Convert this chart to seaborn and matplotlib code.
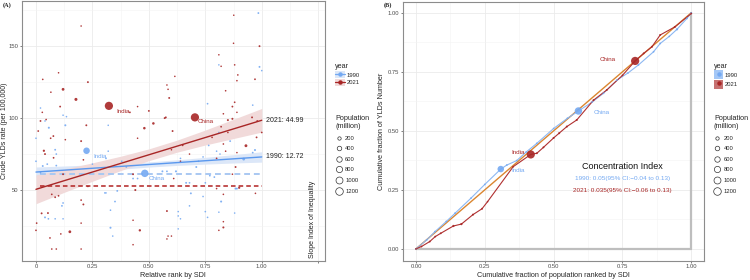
import matplotlib
matplotlib.use("Agg")
import numpy as np
import pandas as pd
import matplotlib.pyplot as plt
import seaborn as sns
from matplotlib.lines import Line2D
from matplotlib.patches import Patch

# ---- panel A: crude YLD rate vs relative SDI rank ----
rank_2021 = [0.323, 0.704, 0.03, 0.10, 0.12, 0.23, 0.177, 0.066, 0.107, 0.028, 0.02, 0.045,
             0.223, 0.20, 0.077, 0.065, 0.035, 0.04, 0.078, 0.21, 0.01, 0.13, 0.416, 0.45,
             0.50, 0.52, 0.48, 0.57, 0.58, 0.585, 0.45, 0.60, 0.615, 0.82, 0.81, 0.894,
             0.89, 0.97, 0.84, 0.88, 0.87, 0.89, 0.83, 0.59, 0.575, 0.605, 0.85, 0.87,
             0.957, 0.98, 0.82, 0.85, 0.78, 0.83, 0.84, 0.93, 0.977, 0.89, 1.0, 0.65,
             0.2, 0.876, 0.99, 0.875, 0.88, 0.12, 0.085, 0.07, 0.1, 0.025, 0.053, 0.003,
             0.0, 0.15, 0.11, 0.062, 0.07, 0.09, 0.2, 0.21, 0.2, 0.2, 0.23, 0.44,
             0.46, 0.43, 0.43, 0.58, 0.58, 0.8, 0.884, 0.87, 0.9, 0.80, 0.83, 0.972,
             0.83, 0.81, 0.83, 0.585, 0.60, 0.43, 0.61, 0.64, 0.68]
rate_2021 = [108.5, 100.5, 126.9, 131.5, 120, 125, 113, 118, 108, 104, 98, 99,
             95, 84, 87.5, 86, 77.3, 75, 72.4, 71, 91, 85, 104, 108,
             105, 96.3, 93, 100, 123, 120, 86, 78, 129, 136, 144, 130,
             126, 127, 119, 111, 108, 104, 103, 114, 100.5, 91, 98.6, 99.5,
             100.5, 98, 94, 90, 86.6, 82, 77, 80.8, 86.6, 76, 90, 81,
             164, 171.5, 150, 152, 137, 61, 45, 47, 46, 33.8, 34, 27,
             22, 21, 19.5, 16.7, 9, 9, 9, 40, 43, 27, 52.5, 50,
             22, 29, 12, 35.4, 16, 72, 66, 61, 51.6, 51, 47, 47.7,
             24, 22, 28, 18, 18, 61, 58, 70, 75]
pop_2021 = [1410, 1420, 10, 5, 120, 30, 150, 8, 25, 8, 25, 10,
            30, 30, 25, 15, 60, 30, 20, 15, 20, 8, 20, 5,
            25, 90, 90, 30, 5, 5, 5, 5, 5, 5, 4, 10,
            8, 20, 8, 15, 25, 5, 8, 30, 30, 30, 40, 40,
            30, 20, 15, 8, 10, 10, 8, 130, 25, 5, 15, 5,
            4, 4, 30, 5, 8, 30, 25, 15, 20, 30, 30, 15,
            15, 120, 10, 15, 8, 8, 5, 30, 15, 5, 8, 40,
            70, 5, 5, 30, 5, 15, 30, 10, 60, 10, 8, 8,
            40, 5, 5, 4, 4, 30, 10, 8, 5]

rank_1990 = [0.224, 0.482, 0.057, 0.13, 0.12, 0.135, 0.02, 0.04, 0.0, 0.085, 0.09, 0.32,
             0.31, 0.32, 0.0, 0.99, 1.0, 0.81, 0.96, 0.76, 0.86, 0.81, 0.765, 0.80,
             0.815, 0.97, 0.96, 0.92, 0.74, 0.72, 0.985, 0.03, 0.05, 0.09, 0.02, 0.115,
             0.12, 0.04, 0.055, 0.085, 0.12, 0.305, 0.31, 0.36, 0.35, 0.33, 0.33, 0.34,
             0.43, 0.45, 0.56, 0.58, 0.62, 0.71, 0.665, 0.68, 0.77, 0.79, 0.75, 0.884,
             0.89, 0.686, 0.74, 0.82, 0.68, 0.75, 0.76, 0.81, 0.88, 0.63, 0.63, 0.64,
             0.63, 0.25, 0.40, 0.38, 0.64]
rate_1990 = [77.3, 61.6, 93.3, 95, 102, 101, 107, 98, 86, 78, 75, 77,
             72, 95, 70, 135.6, 133, 137, 109, 110, 84, 90, 81, 77,
             75, 77.8, 76, 71.5, 73, 70, 173, 66.7, 68, 67, 62, 39,
             41, 31, 30, 30, 30, 48, 48, 49.4, 42, 36, 23.8, 18,
             58, 58, 63, 63, 63, 66, 55, 55, 60, 59, 55, 51,
             51, 47.7, 45.5, 42, 39, 35, 31, 34.6, 34, 35, 32, 30,
             23, 68, 66, 70, 72]
pop_1990 = [870, 1150, 40, 40, 8, 8, 5, 8, 10, 25, 15, 8,
            15, 5, 15, 30, 8, 4, 10, 15, 25, 10, 15, 10,
            8, 40, 20, 120, 10, 10, 25, 30, 20, 20, 8, 20,
            15, 30, 15, 8, 5, 10, 8, 25, 20, 10, 40, 5,
            20, 15, 30, 20, 40, 30, 30, 20, 20, 20, 15, 40,
            30, 30, 10, 40, 10, 10, 10, 5, 5, 10, 8, 5,
            4, 8, 10, 8, 10]

years = ["1990", "2021"]
sii_label = ["1990: 12.72", "2021: 44.99"]
fit_intercept = [62.5, 50.5]
fit_slope = [10.5, 48.0]
band_x = [0, 0.125, 0.25, 0.375, 0.5, 0.625, 0.75, 0.875, 1.0]
band_half = {"1990": [3.5, 2.9, 2.35, 1.95, 1.8, 1.95, 2.35, 2.9, 3.6],
             "2021": [10.0, 8.1, 6.4, 5.0, 4.1, 4.2, 5.2, 6.7, 8.2]}
mean_rate = [61.0, 52.8]

# ---- panel B: concentration curves ----
cx_1990 = [0, 0.039, 0.069, 0.11, 0.142, 0.2, 0.25, 0.308, 0.33, 0.366, 0.40, 0.439,
           0.5, 0.55, 0.59, 0.64, 0.681, 0.73, 0.77, 0.808, 0.863, 0.887, 0.92, 0.948,
           0.984, 1.0]
cy_1990 = [0, 0.038, 0.073, 0.116, 0.151, 0.215, 0.273, 0.338, 0.355, 0.374, 0.41, 0.447,
           0.51, 0.553, 0.584, 0.622, 0.659, 0.715, 0.745, 0.779, 0.835, 0.87, 0.9, 0.93,
           0.976, 1.0]
cp_1990 = [10, 15, 20, 20, 25, 10, 10, 870, 20, 15, 10, 20,
           10, 15, 1150, 20, 15, 20, 10, 20, 15, 20, 10, 60,
           20, 8]
cx_2021 = [0, 0.02, 0.05, 0.07, 0.09, 0.136, 0.165, 0.207, 0.24, 0.26, 0.353, 0.417,
           0.439, 0.463, 0.5, 0.52, 0.548, 0.584, 0.645, 0.693, 0.75, 0.796, 0.827, 0.857,
           0.887, 0.94, 1.0]
cy_2021 = [0, 0.01, 0.031, 0.052, 0.066, 0.097, 0.105, 0.145, 0.17, 0.2, 0.348, 0.40,
           0.405, 0.43, 0.47, 0.49, 0.518, 0.546, 0.63, 0.673, 0.735, 0.796, 0.828, 0.856,
           0.906, 0.94, 0.997]
cp_2021 = [10, 20, 25, 20, 25, 60, 60, 40, 30, 10, 15, 1410,
           30, 30, 40, 40, 40, 40, 30, 25, 20, 1420, 30, 30,
           30, 40, 15]
ci_title = "Concentration Index"
ci_text = ["1990: 0.05(95% CI:\u22120.04 to 0.13)", "2021: 0.035(95% CI:\u22120.06 to 0.13)"]
size_breaks = [200, 400, 600, 800, 1000, 1200]

pal = {"1990": "#74A9F2", "2021": "#A82626"}
band_col = {"1990": "#DCE7F8", "2021": "#F1DADA"}
dash_col = {"1990": "#A9C8F2", "2021": "#B22222"}

sns.set_theme(style="white")
plt.rcParams["font.family"] = ["Liberation Sans", "DejaVu Sans"]

dfa = pd.concat([
    pd.DataFrame({"rank": rank_1990, "rate": rate_1990, "pop": pop_1990, "year": "1990"}),
    pd.DataFrame({"rank": rank_2021, "rate": rate_2021, "pop": pop_2021, "year": "2021"})])
dfb = pd.concat([
    pd.DataFrame({"cx": cx_1990, "cy": cy_1990, "pop": cp_1990, "year": "1990"}),
    pd.DataFrame({"cx": cx_2021, "cy": cy_2021, "pop": cp_2021, "year": "2021"})])

SIZES = (1.2, 37)
NORM = (0, 1500)

fig = plt.figure(figsize=(7.5, 2.8), dpi=100)
axA = fig.add_axes([0.029, 0.069, 0.404, 0.928])
axB = fig.add_axes([0.537, 0.069, 0.402, 0.925])


def style(ax):
    ax.set_facecolor("white")
    ax.grid(True, which="major", color="#EBEBEB", lw=0.6)
    ax.grid(True, which="minor", color="#F3F3F3", lw=0.4)
    ax.set_axisbelow(True)
    for s in ax.spines.values():
        s.set_color("#8C8C8C"); s.set_linewidth(0.8)
    ax.tick_params(axis="both", which="major", labelsize=4.2, labelcolor="#4D4D4D",
                   length=1.5, width=0.5, color="#4D4D4D", pad=1, bottom=True, left=True)
    ax.tick_params(which="minor", length=0)


# panel A
for i, yr in enumerate(years):
    xs = np.array(band_x)
    fit = fit_intercept[i] + fit_slope[i] * xs
    hw = np.array(band_half[yr])
    axA.fill_between(xs, fit - hw, fit + hw, color=band_col[yr], lw=0, zorder=1)
    axA.hlines(mean_rate[i], 0.02, 1.0, colors=dash_col[yr], ls=(0, (3, 2)),
               lw=1.4 if yr == "1990" else 1.1, zorder=2)
sns.scatterplot(data=dfa, x="rank", y="rate", hue="year", palette=pal, size="pop",
                sizes=SIZES, size_norm=NORM, linewidth=0, alpha=0.9, legend=False,
                ax=axA, zorder=3)
for i, yr in enumerate(years):
    xs = np.array([0, 1.0])
    axA.plot(xs, fit_intercept[i] + fit_slope[i] * xs, color="#5A98EE" if yr == "1990" else "#A82626",
             lw=1.0, zorder=4)
    axA.text(1.02, fit_intercept[i] + fit_slope[i], sii_label[i], fontsize=5, va="center",
             ha="left", color="#222222")
axA.text(0.354, 104.9, "India", fontsize=4.5, color=pal["2021"], va="center")
axA.text(0.254, 73.5, "India", fontsize=4.5, color=pal["1990"], va="center")
axA.text(0.715, 97.5, "China", fontsize=4.5, color=pal["2021"], va="center")
axA.text(0.50, 58.0, "China", fontsize=4.5, color=pal["1990"], va="center")
axA.text(1.225, 3, "Slope Index of Inequality", rotation=90, fontsize=5, ha="center",
         va="bottom", color="#222222")
axA.set_xlim(-0.063, 1.279)
axA.set_ylim(0.9, 181.5)
axA.set_xticks([0, 0.25, 0.5, 0.75, 1.0, 1.25])
axA.set_xticklabels(["0", "0.25", "0.50", "0.75", "1.00", ""])
axA.set_xticks([0.125, 0.375, 0.625, 0.875, 1.125], minor=True)
axA.set_yticks([50, 100, 150])
axA.set_yticks([25, 75, 125, 175], minor=True)
axA.set_xlabel("Relative rank by SDI", fontsize=5.2, labelpad=2)
axA.set_ylabel("Crude YLDs rate (per 100,000)", fontsize=5)
axA.yaxis.set_label_coords(-0.046, 0.5)
style(axA)

# panel B
axB.plot([0, 1], [0, 0], color="#BEBEBE", lw=1.6, zorder=1)
axB.plot([1, 1], [0, 1], color="#BEBEBE", lw=1.6, zorder=1)
axB.plot([0, 1], [0, 1], color="#DB8630", lw=1.0, zorder=2)
sns.lineplot(data=dfb, x="cx", y="cy", hue="year", palette={"1990": "#8DB8F2", "2021": "#B03030"},
             sort=False, lw=0.8, legend=False, ax=axB, zorder=3)
sns.scatterplot(data=dfb, x="cx", y="cy", hue="year", palette=pal, size="pop",
                sizes=SIZES, size_norm=NORM, linewidth=0, alpha=0.9, legend=False,
                ax=axB, zorder=4)
axB.text(0.724, 0.80, "China", fontsize=4.5, color=pal["2021"], ha="right", va="center")
axB.text(0.645, 0.577, "China", fontsize=4.5, color=pal["1990"], ha="left", va="center")
axB.text(0.395, 0.409, "India", fontsize=4.5, color=pal["2021"], ha="right", va="center")
axB.text(0.345, 0.33, "India", fontsize=4.5, color=pal["1990"], ha="left", va="center")
axB.text(0.75, 0.348, ci_title, fontsize=6.5, ha="center", va="center", color="#111111")
axB.text(0.75, 0.296, ci_text[0], fontsize=4.6, ha="center", va="center", color=pal["1990"])
axB.text(0.75, 0.247, ci_text[1], fontsize=4.6, ha="center", va="center", color=pal["2021"])
axB.set_xlim(-0.048, 1.047)
axB.set_ylim(-0.05, 1.047)
ticks = [0, 0.25, 0.5, 0.75, 1.0]
axB.set_xticks(ticks); axB.set_yticks(ticks)
axB.set_xticklabels([f"{t:.2f}" for t in ticks]); axB.set_yticklabels([f"{t:.2f}" for t in ticks])
axB.set_xticks([0.125, 0.375, 0.625, 0.875], minor=True)
axB.set_yticks([0.125, 0.375, 0.625, 0.875], minor=True)
axB.set_xlabel("Cumulative fraction of population ranked by SDI", fontsize=5.2, labelpad=2)
axB.set_ylabel("Cumulative fraction of YLDs Number", fontsize=5.2, labelpad=2)
style(axB)

fig.text(0.004, 0.975, "(A)", fontsize=4.5, fontweight="bold", family="Liberation Serif")
fig.text(0.511, 0.975, "(B)", fontsize=4.5, fontweight="bold", family="Liberation Serif")

# legends
def size_handles():
    return [Line2D([], [], ls="", marker="o", mfc="white", mec="#333333", mew=0.5,
                   ms=np.sqrt(SIZES[0] + (SIZES[1] - SIZES[0]) * b / NORM[1])) for b in size_breaks]

yrA = [(Patch(facecolor=band_col[y], lw=0), Line2D([], [], color=pal[y], marker="o", ms=2.2, lw=0.9))
       for y in years]
yrB = [(Patch(facecolor=pal[y], alpha=0.65, lw=0), Line2D([], [], ls="", color=pal[y], marker="o", ms=2.2))
       for y in years]
for xpos, yh, hh in [(0.443, yrA, 1.4), (0.948, yrB, 2.0)]:
    lg1 = fig.legend(yh, years, title="year", loc="upper left", bbox_to_anchor=(xpos, 0.785),
                     frameon=False, fontsize=4.2, title_fontsize=5.2, handlelength=1.6,
                     handleheight=hh, labelspacing=0.2 if hh < 2 else 0.05, borderpad=0,
                     handletextpad=0.3)
    lg1._legend_box.align = "left"
    lg2 = fig.legend(size_handles(), [str(b) for b in size_breaks], title="Population\n(million)",
                     loc="upper left", bbox_to_anchor=(xpos, 0.6), frameon=False, fontsize=4.2,
                     title_fontsize=5.2, handlelength=1.2, labelspacing=0.95, borderpad=0,
                     handletextpad=0.5)
    lg2._legend_box.align = "left"

fig.savefig("out.png", dpi=100)
